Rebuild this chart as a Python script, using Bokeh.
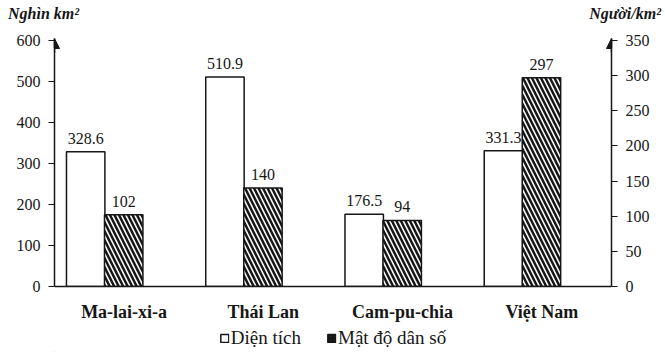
from bokeh.plotting import figure
from bokeh.layouts import column
from bokeh.models import (Range1d, LinearAxis, FixedTicker, ColumnDataSource, Legend,
                          LegendItem, Arrow, NormalHead, Div)
from bokeh.transform import dodge
from bokeh.embed import file_html
from bokeh.resources import INLINE
from bokeh.core.properties import value

# ---- data ----
countries = ["Ma-lai-xi-a", "Thái Lan", "Cam-pu-chia", "Việt Nam"]
area = [328.6, 510.9, 176.5, 331.3]          # Nghìn km2
density = [102, 140, 94, 297]                # Người/km2
area_ticks = [0, 100, 200, 300, 400, 500, 600]
density_ticks = [0, 50, 100, 150, 200, 250, 300, 350]
legend_labels = ["Diện tích", "Mật độ dân số"]
left_unit = "Nghìn km²"
right_unit = "Người/km²"

FONT = "Liberation Serif"
INK = "#161616"
BW = 0.276
W = 665
TOP_H, MAIN_H, LEG_H = 28, 296, 28
ML, MR, MT, MB = 54, 54, 10, 38
HEAD = 1.008                                  # axis extends a little above the last tick

pos = [i + 0.5 for i in range(len(countries))]
src = ColumnDataSource(dict(
    pos=pos, area=area, density=density,
    area_lbl=[f"{v:g}" for v in area],
    dens_lbl=[f"{v:g}" for v in density],
))

# ---------------- header with the two unit titles ----------------
header = Div(
    text=(f'<div style="display:flex; justify-content:space-between; align-items:center; '
          f'width:{W}px; height:{TOP_H}px; box-sizing:border-box; padding:0 4px 0 8px; '
          f'font-family:\'{FONT}\'; font-style:italic; font-weight:bold; font-size:16px; '
          f'color:{INK};"><span>{left_unit}</span><span>{right_unit}</span></div>'),
    width=W, height=TOP_H, margin=0)

# ---------------- main chart ----------------
p = figure(width=W, height=MAIN_H, output_backend="svg", toolbar_location=None,
           x_range=Range1d(0, len(countries)), y_range=Range1d(0, area_ticks[-1] * HEAD),
           min_border_left=ML, min_border_right=MR, min_border_top=MT, min_border_bottom=MB,
           outline_line_color=None, background_fill_color="white", border_fill_color="white")
p.title.visible = False
p.extra_y_ranges = {"right": Range1d(0, density_ticks[-1] * HEAD)}
p.grid.visible = False

bar_style = dict(width=BW, source=src, fill_color="white", line_color=INK, line_width=1.5)
hatch_style = dict(hatch_pattern="\\", hatch_color=INK, hatch_scale=9, hatch_weight=2.5)
r1 = p.vbar(x=dodge("pos", -BW), top="area", **bar_style)
r2 = p.vbar(x=dodge("pos", -0.003), top="density", y_range_name="right", **bar_style, **hatch_style)

lbl_style = dict(source=src, text_align="center", text_baseline="bottom", y_offset=-8,
                 text_font=value(FONT), text_font_size="16px", text_color=INK)
p.text(x=dodge("pos", -BW), y="area", text="area_lbl", **lbl_style)
p.text(x=dodge("pos", -0.003), y="density", text="dens_lbl", y_range_name="right", **lbl_style)

xa = p.xaxis[0]
xa.ticker = FixedTicker(ticks=pos)
xa.major_label_overrides = {pv: c for pv, c in zip(pos, countries)}
xa.major_tick_line_color = None
xa.minor_tick_line_color = None
xa.axis_line_color = INK
xa.axis_line_width = 1.5
xa.major_label_standoff = 9
xa.major_label_text_font = FONT
xa.major_label_text_font_style = "bold"
xa.major_label_text_font_size = "18px"
xa.major_label_text_color = INK

ya = p.yaxis[0]
ya.ticker = FixedTicker(ticks=area_ticks)
ra = LinearAxis(y_range_name="right", ticker=FixedTicker(ticks=density_ticks))
p.add_layout(ra, "right")
for ax in (ya, ra):
    ax.minor_tick_line_color = None
    ax.major_tick_out = 6
    ax.major_tick_in = 0
    ax.axis_line_color = INK
    ax.axis_line_width = 1.5
    ax.major_tick_line_color = INK
    ax.major_tick_line_width = 1.2
    ax.major_label_standoff = 8
    ax.major_label_text_font = FONT
    ax.major_label_text_font_size = "16px"
    ax.major_label_text_color = INK

# arrow heads at the top of both value axes
head_kw = dict(size=10, fill_color=INK, line_color=INK, line_width=1)
p.add_layout(Arrow(end=NormalHead(**head_kw), x_start=0, y_start=area_ticks[-1] * 0.95,
                   x_end=0, y_end=area_ticks[-1] * HEAD, line_color=INK, line_width=1.5))
p.add_layout(Arrow(end=NormalHead(**head_kw), x_start=len(countries),
                   y_start=density_ticks[-1] * 0.95, x_end=len(countries),
                   y_end=density_ticks[-1] * HEAD, y_range_name="right",
                   line_color=INK, line_width=1.5))

# ---------------- bottom strip: legend ----------------
leg = figure(width=W, height=LEG_H, output_backend="svg", toolbar_location=None,
             x_range=Range1d(0, 1), y_range=Range1d(0, 1),
             min_border=0, outline_line_color=None,
             background_fill_color="white", border_fill_color="white")
leg.title.visible = False
leg.axis.visible = False
leg.grid.visible = False
proxy = ColumnDataSource(dict(x=[-5], top=[0]))   # legend proxies, outside the visible range
d1 = leg.vbar(x="x", top="top", width=0.1, source=proxy,
              fill_color="white", line_color=INK, line_width=1.5)
d2 = leg.vbar(x="x", top="top", width=0.1, source=proxy,
              fill_color="white", line_color=INK, line_width=1.5,
              hatch_pattern="\\", hatch_color=INK, hatch_scale=4, hatch_weight=2.5)
legend = Legend(items=[LegendItem(label=legend_labels[0], renderers=[d1]),
                       LegendItem(label=legend_labels[1], renderers=[d2])],
                orientation="horizontal", location="center",
                border_line_color=None, background_fill_alpha=0,
                label_text_font=FONT, label_text_font_size="19px", label_text_color=INK,
                glyph_width=10, glyph_height=10, label_standoff=2, spacing=25,
                padding=0, margin=0)
leg.add_layout(legend, "center")

layout = column(header, p, leg, spacing=0)
open("out.html", "w").write(file_html(layout, INLINE))
